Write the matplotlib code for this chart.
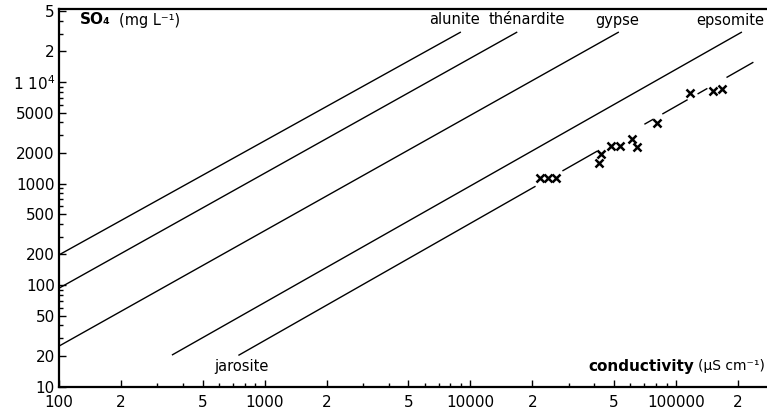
import numpy as np
import matplotlib
matplotlib.use("Agg")
import matplotlib.pyplot as plt
from matplotlib.ticker import FixedLocator, FixedFormatter, NullFormatter

plt.rcParams['font.family'] = ['DejaVu Sans']

# Saturation lines: (x0, y0, x1, y1) in data units
line_names = ["alunite", "thénardite", "gypse", "epsomite", "jarosite"]
line_x0 = [100, 100, 100, 354, 750]
line_y0 = [198, 93, 25, 20.4, 20.4]
line_x1 = [8990, 16900, 52700, 209000, 234000]
line_y1 = [31100, 31100, 31100, 31100, 15400]

# jarosite line is drawn in pieces (gaps around the measured points)
jaro_pieces = [(750, 20600), (28200, 41200), (70600, 77300),
               (86300, 113000), (128000, 141000), (177000, 236000)]

# measured samples
cond = [21800, 23800, 26100, 42200, 43100, 48300, 53400, 61000, 64500,
        80800, 117000, 151000, 167000]
so4 = [1130, 1130, 1130, 1590, 1950, 2340, 2340, 2740, 2300,
       3950, 7790, 8150, 8530]

x_major = [100, 200, 500, 1000, 2000, 5000, 10000, 20000, 50000, 100000, 200000]
x_labels = ["100", "2", "5", "1000", "2", "5", "10000", "2", "5", "100000", "2"]
y_major = [10, 20, 50, 100, 200, 500, 1000, 2000, 5000, 10000, 20000, 50000]
y_labels = ["10", "20", "50", "100", "200", "500", "1000", "2000", "5000",
            "1 10$^{4}$", "2", "5"]

W, H = 767, 411
fig = plt.figure(figsize=(W / 100, H / 100), dpi=100)
ax = fig.add_axes([59 / W, (H - 386.5) / H, 1 - 59 / W, (386.5 - 9) / H])
ax.set_xscale('log')
ax.set_yscale('log')
ax.set_xlim(100, 276700)
ax.set_ylim(10, 52400)

for i in range(4):
    ax.plot([line_x0[i], line_x1[i]], [line_y0[i], line_y1[i]],
            color='black', lw=1.0, solid_capstyle='butt')

# jarosite line pieces
lx = np.log10([line_x0[4], line_x1[4]])
ly = np.log10([line_y0[4], line_y1[4]])
slope = (ly[1] - ly[0]) / (lx[1] - lx[0])
for a, b in jaro_pieces:
    xs = np.array([a, b], dtype=float)
    ys = 10 ** (ly[0] + slope * (np.log10(xs) - lx[0]))
    ax.plot(xs, ys, color='black', lw=1.0)

ax.plot(cond, so4, linestyle='none', marker='x', color='black',
        markersize=6, markeredgewidth=1.8)

ax.xaxis.set_major_locator(FixedLocator(x_major))
ax.xaxis.set_major_formatter(FixedFormatter(x_labels))
ax.yaxis.set_major_locator(FixedLocator(y_major))
ax.yaxis.set_major_formatter(FixedFormatter(y_labels))
ax.xaxis.set_minor_formatter(NullFormatter())
ax.yaxis.set_minor_formatter(NullFormatter())

ax.tick_params(axis='both', which='both', direction='in', colors='black',
               labelsize=11, width=1.0)
ax.tick_params(axis='both', which='major', length=5)
ax.tick_params(axis='both', which='minor', length=3)
ax.tick_params(axis='x', pad=6)
ax.tick_params(axis='y', pad=3)

for s in ['left', 'bottom', 'top']:
    ax.spines[s].set_linewidth(1.6)
ax.spines['right'].set_visible(False)

# line labels
def ftxt(px, py, s, **kw):
    fig.text(px / W, 1 - py / H, s, ha='center', va='center', fontsize=10.5, **kw)

ftxt(454, 20, line_names[0])
ftxt(527, 20, line_names[1])
ftxt(617, 20, line_names[2])
ftxt(730, 20, line_names[3])
ftxt(241, 366, line_names[4])

fig.text(80 / W, 1 - 20 / H, "SO₄", ha='left', va='center', fontsize=11,
         fontweight='bold')
fig.text(119 / W, 1 - 20 / H, "(mg L⁻¹)", ha='left', va='center', fontsize=10.5)
fig.text(694 / W, 1 - 366 / H, "conductivity", ha='right', va='center',
         fontsize=11, fontweight='bold')
fig.text(765 / W, 1 - 366 / H, "(µS cm⁻¹)", ha='right', va='center', fontsize=10)

fig.savefig("out.png", dpi=100)
